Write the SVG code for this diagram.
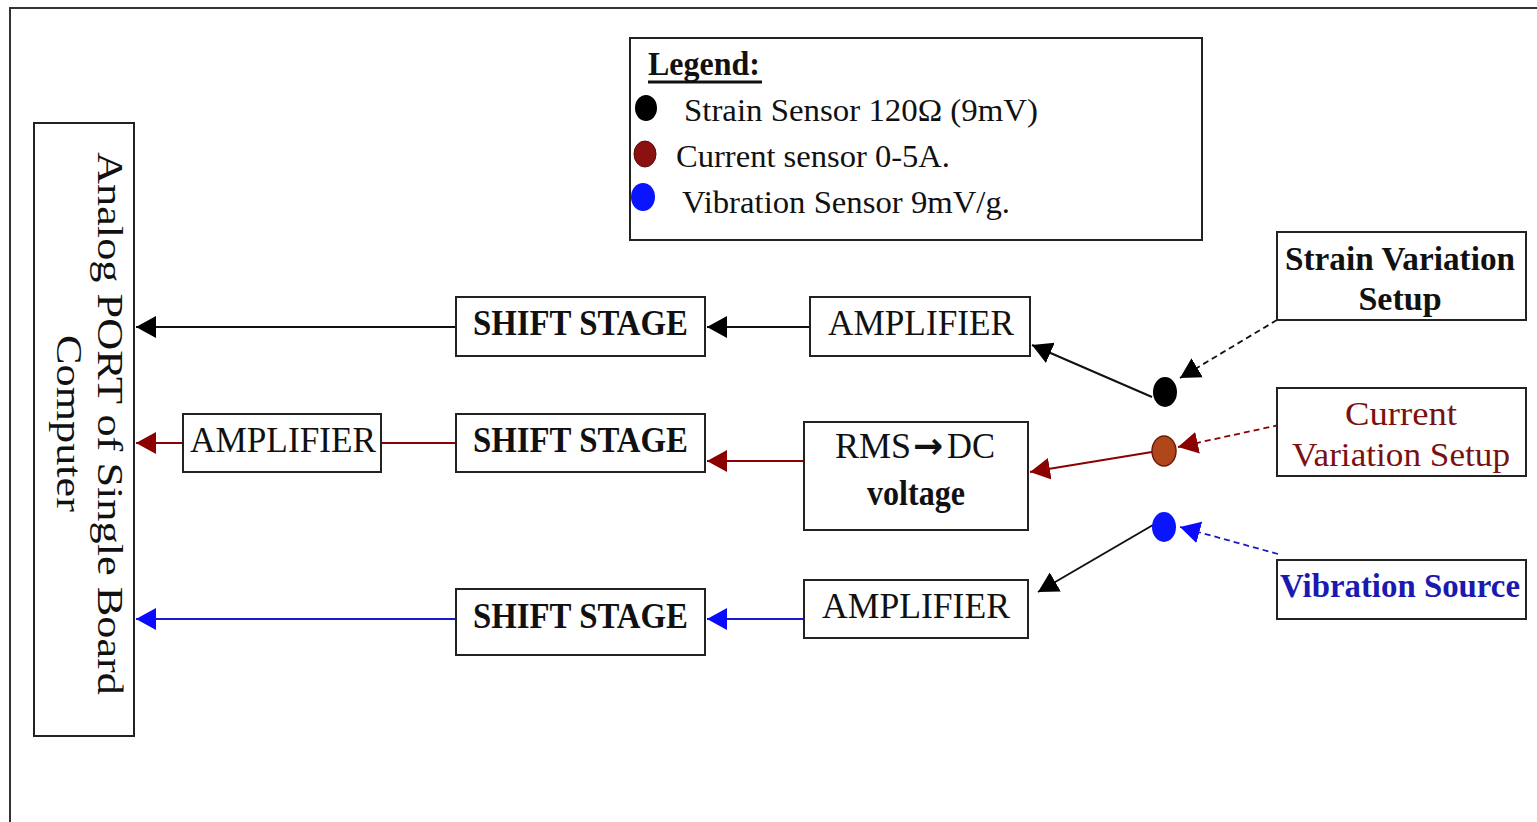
<svg xmlns="http://www.w3.org/2000/svg" width="1537" height="822" viewBox="0 0 1537 822">
<style>
  .box { fill: #ffffff; stroke: #222222; stroke-width: 2; }
  .t { font-family: "Liberation Serif", "Times New Roman", serif; fill: #111111; }
  .b { font-weight: bold; }
  .c { text-anchor: middle; }
  .lk { stroke: #111111; stroke-width: 2; fill: none; }
  .lr { stroke: #8b0000; stroke-width: 2; fill: none; }
  .lb { stroke: #1a1ac8; stroke-width: 2; fill: none; }
  .dk { stroke: #111111; stroke-width: 1.8; fill: none; stroke-dasharray: 6 4; }
  .dr { stroke: #8b0000; stroke-width: 1.8; fill: none; stroke-dasharray: 6 4; }
  .db { stroke: #1a1ac8; stroke-width: 1.8; fill: none; stroke-dasharray: 6 4; }
</style>
<defs>
  <marker id="ak" markerUnits="userSpaceOnUse" markerWidth="22" markerHeight="24" refX="20" refY="11" orient="auto" viewBox="0 0 22 22">
    <path d="M0,0 L20,11 L0,22 Z" fill="#000000"/>
  </marker>
  <marker id="ar" markerUnits="userSpaceOnUse" markerWidth="22" markerHeight="24" refX="20" refY="11" orient="auto" viewBox="0 0 22 22">
    <path d="M0,0 L20,11 L0,22 Z" fill="#8b0000"/>
  </marker>
  <marker id="ab" markerUnits="userSpaceOnUse" markerWidth="22" markerHeight="24" refX="20" refY="11" orient="auto" viewBox="0 0 22 22">
    <path d="M0,0 L20,11 L0,22 Z" fill="#0a0aff"/>
  </marker>
</defs>
<rect x="0" y="0" width="1537" height="822" fill="#ffffff"/>
<rect x="10" y="8" width="1545" height="840" fill="none" stroke="#333333" stroke-width="2"/>

<g id="connectors">
  <!-- strain chain -->
  <line class="lk" x1="810" y1="327" x2="707" y2="327" marker-end="url(#ak)"/>
  <line class="lk" x1="456" y1="327" x2="136" y2="327" marker-end="url(#ak)"/>
  <line class="lk" x1="1152" y1="397" x2="1032" y2="345" marker-end="url(#ak)"/>
  <line class="dk" x1="1277" y1="320" x2="1180" y2="378" marker-end="url(#ak)"/>
  <!-- current chain -->
  <line class="lr" x1="804" y1="461" x2="707" y2="461" marker-end="url(#ar)"/>
  <line class="lr" x1="456" y1="443" x2="381" y2="443"/>
  <line class="lr" x1="183" y1="443" x2="136" y2="443" marker-end="url(#ar)"/>
  <line class="lr" x1="1152" y1="452" x2="1030" y2="472" marker-end="url(#ar)"/>
  <line class="dr" x1="1279" y1="425" x2="1178" y2="447" marker-end="url(#ar)"/>
  <!-- vibration chain -->
  <line class="lb" x1="804" y1="619" x2="707" y2="619" marker-end="url(#ab)"/>
  <line class="lb" x1="456" y1="619" x2="136" y2="619" marker-end="url(#ab)"/>
  <line class="lk" x1="1153" y1="525" x2="1038" y2="592" marker-end="url(#ak)"/>
  <line class="db" x1="1278" y1="554" x2="1180" y2="527" marker-end="url(#ab)"/>
</g>

<g id="port">
  <rect class="box" x="34" y="123" width="100" height="613"/>
  <text class="t c" font-size="36" transform="translate(98,423.5) rotate(90)" textLength="543" lengthAdjust="spacingAndGlyphs">Analog PORT of Single Board</text>
  <text class="t c" font-size="36" transform="translate(57,423.5) rotate(90)" textLength="177" lengthAdjust="spacingAndGlyphs">Computer</text>
</g>

<g id="legend">
  <rect class="box" x="630" y="38" width="572" height="202"/>
  <text class="t b" x="648" y="75" font-size="34" textLength="112" lengthAdjust="spacingAndGlyphs">Legend:</text>
  <line x1="648" y1="82" x2="762" y2="82" stroke="#111111" stroke-width="3"/>
  <ellipse cx="646" cy="108" rx="11" ry="13" fill="#000000"/>
  <text class="t" x="684" y="121" font-size="32" textLength="354" lengthAdjust="spacingAndGlyphs">Strain Sensor 120Ω (9mV)</text>
  <ellipse cx="645" cy="154" rx="11" ry="13" fill="#8b1010" stroke="#5a0a0a" stroke-width="1"/>
  <text class="t" x="676" y="167" font-size="32" textLength="274" lengthAdjust="spacingAndGlyphs">Current sensor 0-5A.</text>
  <ellipse cx="643" cy="197" rx="12" ry="14" fill="#0a14ff"/>
  <text class="t" x="682" y="213" font-size="32" textLength="328" lengthAdjust="spacingAndGlyphs">Vibration Sensor 9mV/g.</text>
</g>

<g id="shift1">
  <rect class="box" x="456" y="297" width="249" height="59"/>
  <text class="t b" x="473" y="335" font-size="36" textLength="215" lengthAdjust="spacingAndGlyphs">SHIFT STAGE</text>
</g>
<g id="amp1">
  <rect class="box" x="810" y="297" width="220" height="59"/>
  <text class="t" x="828" y="335" font-size="36" textLength="186" lengthAdjust="spacingAndGlyphs">AMPLIFIER</text>
</g>
<g id="amp2">
  <rect class="box" x="183" y="414" width="198" height="58"/>
  <text class="t" x="190" y="452" font-size="36" textLength="186" lengthAdjust="spacingAndGlyphs">AMPLIFIER</text>
</g>
<g id="shift2">
  <rect class="box" x="456" y="414" width="249" height="58"/>
  <text class="t b" x="473" y="452" font-size="36" textLength="215" lengthAdjust="spacingAndGlyphs">SHIFT STAGE</text>
</g>
<g id="rms">
  <rect class="box" x="804" y="422" width="224" height="108"/>
  <text class="t" y="458" font-size="35"><tspan x="835" textLength="76" lengthAdjust="spacingAndGlyphs">RMS</tspan><tspan x="913" font-family="DejaVu Sans, sans-serif" font-weight="bold" font-size="36">→</tspan><tspan x="947" textLength="48" lengthAdjust="spacingAndGlyphs">DC</tspan></text>
  <text class="t b" x="867" y="505" font-size="35" textLength="98" lengthAdjust="spacingAndGlyphs">voltage</text>
</g>
<g id="shift3">
  <rect class="box" x="456" y="589" width="249" height="66"/>
  <text class="t b" x="473" y="628" font-size="36" textLength="215" lengthAdjust="spacingAndGlyphs">SHIFT STAGE</text>
</g>
<g id="amp3">
  <rect class="box" x="804" y="580" width="224" height="58"/>
  <text class="t" x="822" y="618" font-size="36" textLength="188" lengthAdjust="spacingAndGlyphs">AMPLIFIER</text>
</g>

<g id="strain-setup">
  <rect class="box" x="1277" y="232" width="249" height="88"/>
  <text class="t b" x="1285" y="270" font-size="34" textLength="230" lengthAdjust="spacingAndGlyphs">Strain Variation</text>
  <text class="t b c" x="1400" y="310" font-size="34">Setup</text>
</g>
<g id="current-setup">
  <rect class="box" x="1277" y="388" width="249" height="88"/>
  <text class="t c" x="1401" y="425" font-size="34" style="fill:#7b1010" textLength="112" lengthAdjust="spacingAndGlyphs">Current</text>
  <text class="t" x="1292" y="466" font-size="34" style="fill:#7b1010" textLength="218" lengthAdjust="spacingAndGlyphs">Variation Setup</text>
</g>
<g id="vibration-source">
  <rect class="box" x="1277" y="560" width="249" height="59"/>
  <text class="t b" x="1280" y="597" font-size="34" style="fill:#1a1ab0" textLength="240" lengthAdjust="spacingAndGlyphs">Vibration Source</text>
</g>

<g id="sensor-strain">
  <ellipse cx="1165" cy="392" rx="12" ry="15" fill="#000000"/>
</g>
<g id="sensor-current">
  <ellipse cx="1164" cy="451" rx="12" ry="15" fill="#b0471a" stroke="#6b1a0a" stroke-width="1.5"/>
</g>
<g id="sensor-vibration">
  <ellipse cx="1164" cy="527" rx="12" ry="15" fill="#0a14ff"/>
</g>
</svg>
